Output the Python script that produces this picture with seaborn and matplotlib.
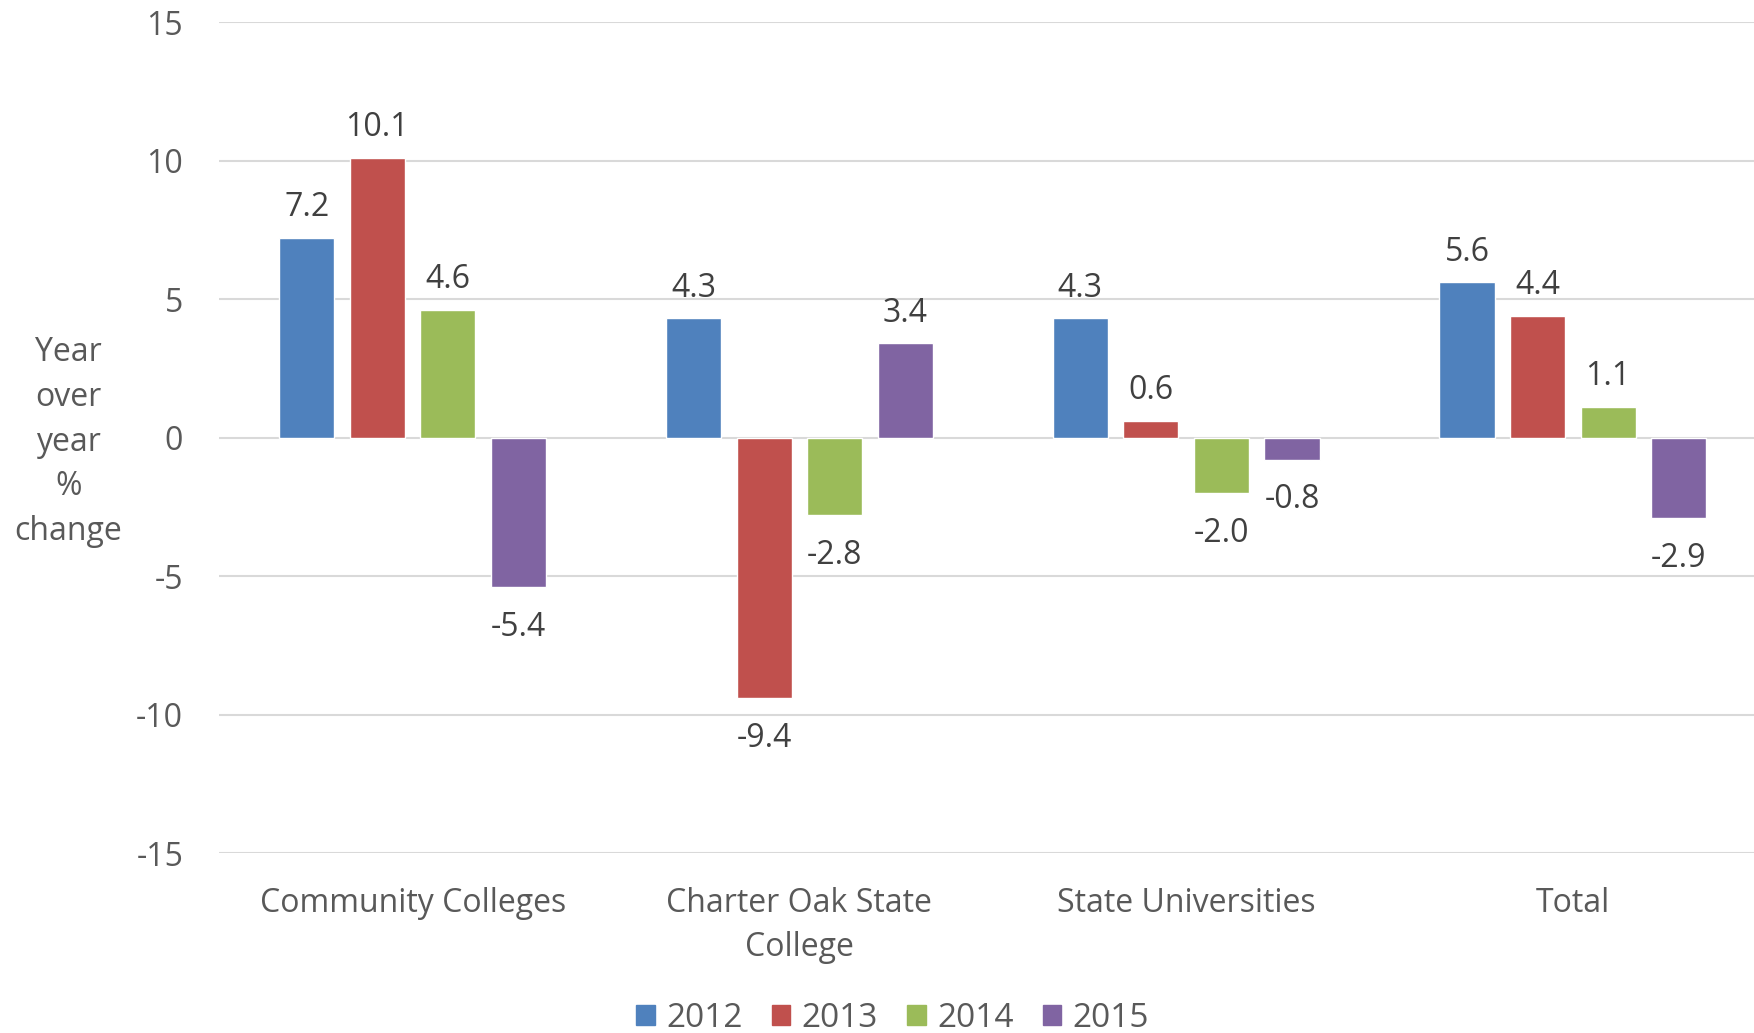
import matplotlib
matplotlib.use('Agg')
import matplotlib.pyplot as plt
import matplotlib.patches as mpatches
import pandas as pd
import seaborn as sns

categories = ['Community Colleges', 'Charter Oak State\nCollege', 'State Universities', 'Total']
years = ['2012', '2013', '2014', '2015']
pct_2012 = [7.2, 4.3, 4.3, 5.6]
pct_2013 = [10.1, -9.4, 0.6, 4.4]
pct_2014 = [4.6, -2.8, -2.0, 1.1]
pct_2015 = [-5.4, 3.4, -0.8, -2.9]
colors = ['#4F81BD', '#C0504D', '#9BBB59', '#8064A2']

rows = []
for year, vals in zip(years, [pct_2012, pct_2013, pct_2014, pct_2015]):
    for cat, v in zip(categories, vals):
        rows.append({'Category': cat, 'Year': year, 'Change': v})
df = pd.DataFrame(rows)

sns.set_style('white')
plt.rcParams['font.family'] = ['Open Sans', 'DejaVu Sans']
plt.rcParams['axes.unicode_minus'] = False

fig = plt.figure(figsize=(17.54, 10.33), dpi=100)
ax = fig.add_axes([0.125, 0.174, 0.882, 0.8047])

sns.barplot(data=df, x='Category', y='Change', hue='Year', order=categories,
            hue_order=years, palette=colors, width=0.73, gap=0.22,
            errorbar=None, saturation=1, ax=ax, legend=False)

# value labels: Excel puts the negative ones a bit further from the bar
for cont in ax.containers:
    vals = cont.datavalues
    pos = ['%.1f' % v if v >= 0 else '' for v in vals]
    neg = ['%.1f' % v if v < 0 else '' for v in vals]
    ax.bar_label(cont, labels=pos, padding=10, fontsize=23, color='#404040')
    ax.bar_label(cont, labels=neg, padding=17, fontsize=23, color='#404040')

ax.set_ylim(-15, 15)
ax.set_yticks(range(-15, 16, 5))
ax.set_xlim(-0.5, 3.5)
ax.grid(axis='y', color='#D9D9D9', linewidth=1.5)
ax.set_axisbelow(True)
for s in ax.spines.values():
    s.set_visible(False)
ax.tick_params(axis='both', length=0, labelsize=23, labelcolor='#595959')
ax.tick_params(axis='y', pad=26)
ax.tick_params(axis='x', pad=24)
for lbl in ax.get_xticklabels():
    lbl.set_linespacing(1.45)
ax.set_xlabel('')
ax.set_ylabel('')

fig.text(0.039, 0.572, 'Year\nover\nyear\n%\nchange', ha='center', va='center',
         fontsize=23, color='#595959', linespacing=1.47)

handles = [mpatches.Patch(color=c, label=y) for c, y in zip(colors, years)]
fig.legend(handles=handles, loc='center', bbox_to_anchor=(0.509, 0.014), ncol=4,
           frameon=False, fontsize=24, handlelength=0.55, handleheight=0.55,
           handletextpad=0.35, columnspacing=0.87, labelcolor='#595959')

fig.savefig('out.png', dpi=100)
